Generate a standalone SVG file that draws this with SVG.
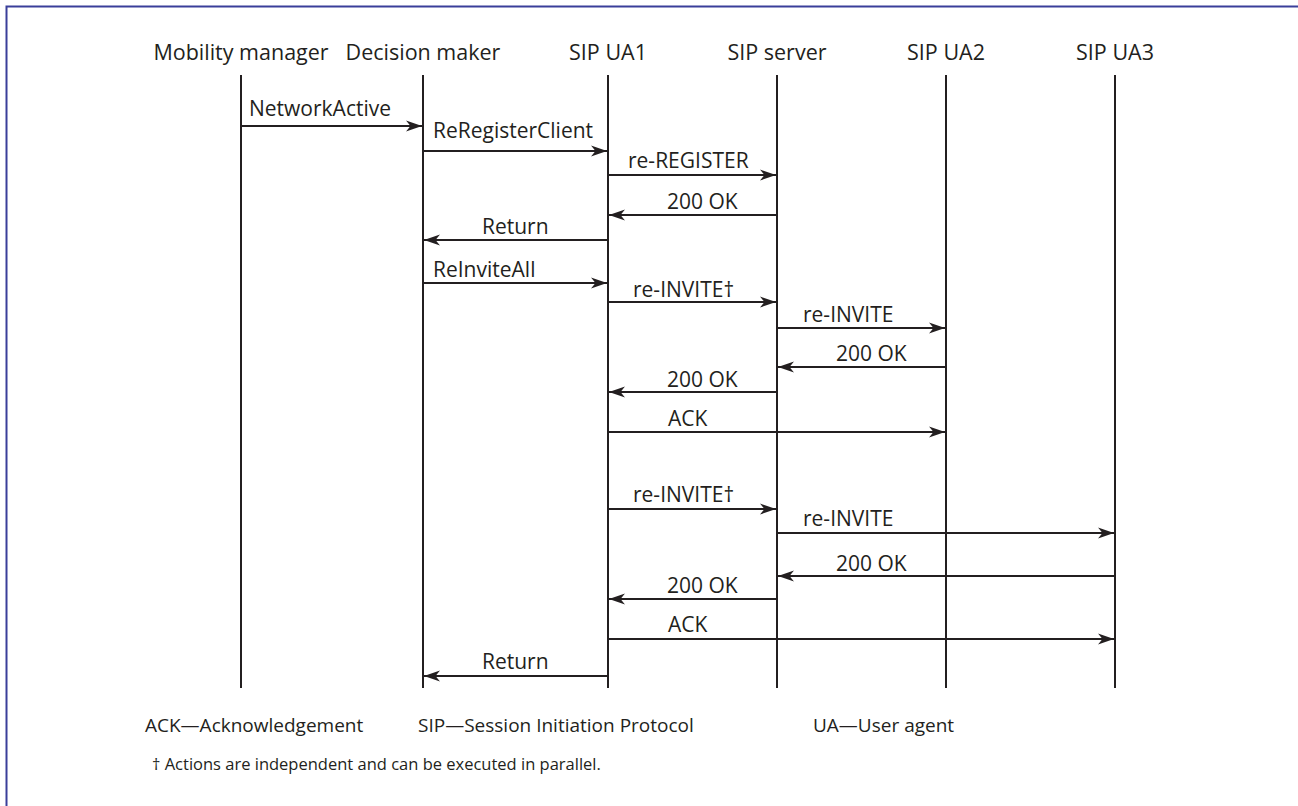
<svg xmlns="http://www.w3.org/2000/svg" width="1298" height="806" viewBox="0 0 1298 806">
  <style>
    .lbl { font-family: "Open Sans", "Liberation Sans", sans-serif; font-size: 21px; fill: #231f20; }
    .hdr { text-anchor: middle; font-size: 21.5px; }
    .key { font-size: 19px; }
    .life { stroke: #231f20; stroke-width: 2; fill: none; }
    .msg { stroke: #231f20; stroke-width: 2; fill: none; marker-end: url(#head); }
    .note { font-family: "Open Sans", "Liberation Sans", sans-serif; font-size: 16.5px; fill: #231f20; }
  </style>
  <defs>
    <marker id="head" markerUnits="userSpaceOnUse" markerWidth="18" markerHeight="14" viewBox="-17 -7 18 14" refX="0" refY="0" orient="auto">
      <path d="M0,0 L-16,-5.5 L-11.5,0 L-16,5.5 Z" fill="#231f20"/>
    </marker>
  </defs>
  <rect width="1298" height="806" fill="#ffffff"/>
  <!-- frame: top and left rules -->
  <path d="M6.5,806 V6.5 H1298" fill="none" stroke="#3a3f9a" stroke-width="2"/>

  <!-- participants -->
  <g id="mobility-manager">
    <text class="lbl hdr" x="241" y="60">Mobility manager</text>
    <line class="life" x1="241" y1="75" x2="241" y2="688"/>
  </g>
  <g id="decision-maker">
    <text class="lbl hdr" x="423" y="60">Decision maker</text>
    <line class="life" x1="423" y1="75" x2="423" y2="688"/>
  </g>
  <g id="sip-ua1">
    <text class="lbl hdr" x="608" y="60">SIP UA1</text>
    <line class="life" x1="608" y1="75" x2="608" y2="688"/>
  </g>
  <g id="sip-server">
    <text class="lbl hdr" x="777" y="60">SIP server</text>
    <line class="life" x1="777" y1="75" x2="777" y2="688"/>
  </g>
  <g id="sip-ua2">
    <text class="lbl hdr" x="946" y="60">SIP UA2</text>
    <line class="life" x1="946" y1="75" x2="946" y2="688"/>
  </g>
  <g id="sip-ua3">
    <text class="lbl hdr" x="1115" y="60">SIP UA3</text>
    <line class="life" x1="1115" y1="75" x2="1115" y2="688"/>
  </g>

  <!-- messages -->
  <g id="connectors">
    <line class="msg" x1="241" y1="126" x2="422" y2="126"/>
    <text class="lbl" x="249" y="116">NetworkActive</text>

    <line class="msg" x1="423" y1="151" x2="607" y2="151"/>
    <text class="lbl" x="433" y="138">ReRegisterClient</text>

    <line class="msg" x1="608" y1="175" x2="776" y2="175"/>
    <text class="lbl" x="628" y="168">re-REGISTER</text>

    <line class="msg" x1="777" y1="215" x2="609" y2="215"/>
    <text class="lbl" x="667" y="209">200 OK</text>

    <line class="msg" x1="608" y1="240" x2="424" y2="240"/>
    <text class="lbl" x="482" y="234">Return</text>

    <line class="msg" x1="423" y1="283" x2="607" y2="283"/>
    <text class="lbl" x="433" y="277">ReInviteAll</text>

    <line class="msg" x1="608" y1="302" x2="776" y2="302"/>
    <text class="lbl" x="633" y="297">re-INVITE†</text>

    <line class="msg" x1="777" y1="328" x2="945" y2="328"/>
    <text class="lbl" x="803" y="322">re-INVITE</text>

    <line class="msg" x1="946" y1="367" x2="778" y2="367"/>
    <text class="lbl" x="836" y="361">200 OK</text>

    <line class="msg" x1="777" y1="392" x2="609" y2="392"/>
    <text class="lbl" x="667" y="387">200 OK</text>

    <line class="msg" x1="608" y1="432" x2="945" y2="432"/>
    <text class="lbl" x="668" y="426">ACK</text>

    <line class="msg" x1="608" y1="509" x2="776" y2="509"/>
    <text class="lbl" x="633" y="502">re-INVITE†</text>

    <line class="msg" x1="777" y1="533" x2="1114" y2="533"/>
    <text class="lbl" x="803" y="526">re-INVITE</text>

    <line class="msg" x1="1115" y1="576" x2="778" y2="576"/>
    <text class="lbl" x="836" y="571">200 OK</text>

    <line class="msg" x1="777" y1="599" x2="609" y2="599"/>
    <text class="lbl" x="667" y="593">200 OK</text>

    <line class="msg" x1="608" y1="639" x2="1114" y2="639"/>
    <text class="lbl" x="668" y="632">ACK</text>

    <line class="msg" x1="608" y1="676" x2="424" y2="676"/>
    <text class="lbl" x="482" y="669">Return</text>
  </g>

  <!-- legend -->
  <g id="legend">
    <text class="lbl key" x="145" y="732">ACK—Acknowledgement</text>
    <text class="lbl key" x="418" y="732">SIP—Session Initiation Protocol</text>
    <text class="lbl key" x="813" y="732">UA—User agent</text>
    <text class="note" x="152" y="770">† Actions are independent and can be executed in parallel.</text>
  </g>
</svg>
